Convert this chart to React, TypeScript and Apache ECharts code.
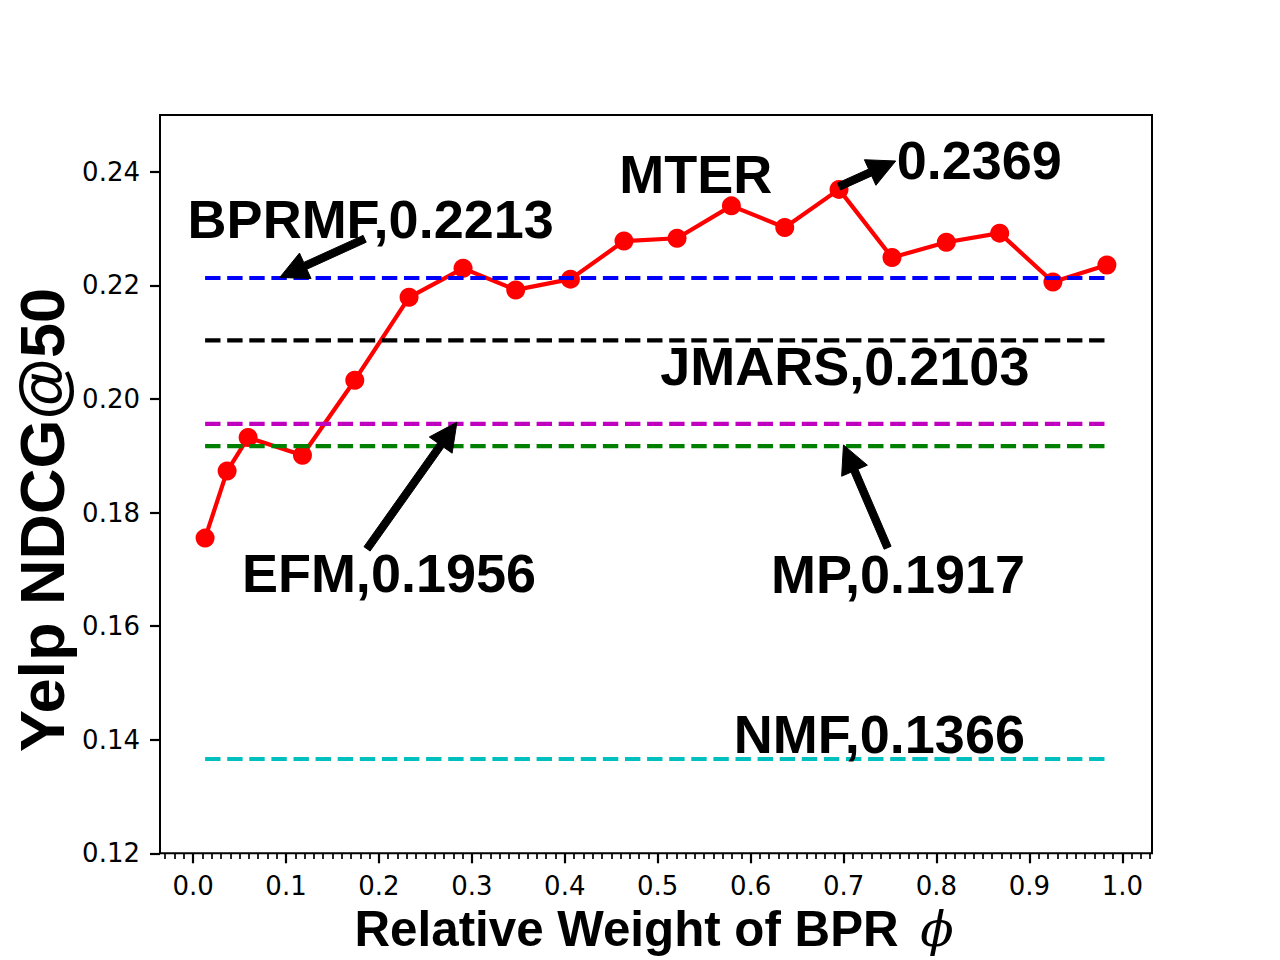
import React, { useEffect, useRef } from "react";
import * as echarts from "echarts";

// ---- data ----
const phiValues = [0.0129, 0.0366, 0.0592, 0.1177, 0.174, 0.2324, 0.2905, 0.3472, 0.4061, 0.4637, 0.5208, 0.5793, 0.6367, 0.6951, 0.7521, 0.8106, 0.868, 0.9253, 0.9834];
const mterNdcg = [0.1755, 0.1873, 0.1932, 0.1901, 0.2033, 0.2179, 0.223, 0.2192, 0.2211, 0.2278, 0.2283, 0.234, 0.2302, 0.2369, 0.2249, 0.2276, 0.2292, 0.2206, 0.2236];
const baselineNames = ["BPRMF", "JMARS", "EFM", "MP", "NMF"];
const baselineValues = [0.2213, 0.2103, 0.1956, 0.1917, 0.1366];
const baselineColors = ["#0000ff", "#000000", "#bf00bf", "#008000", "#00bfbf"];
const xTickValues = [0.0, 0.1, 0.2, 0.3, 0.4, 0.5, 0.6, 0.7, 0.8, 0.9, 1.0];
const yTickValues = [0.12, 0.14, 0.16, 0.18, 0.2, 0.22, 0.24];
const yMin = 0.12;
const yMax = 0.25;

// annotation texts: baseline-left anchor in data coords, optional arrow (tail -> tip)
const annotations = [
  { text: "BPRMF,0.2213", at: [-0.0059, 0.2283], from: [0.1846, 0.2282], to: [0.0933, 0.2214] },
  { text: "MTER", at: [0.4586, 0.2362] },
  { text: "0.2369", at: [0.7572, 0.2388], from: [0.6951, 0.2374], to: [0.7561, 0.2419] },
  { text: "JMARS,0.2103", at: [0.5027, 0.2024] },
  { text: "EFM,0.1956", at: [0.0525, 0.166], from: [0.1872, 0.1736], to: [0.2839, 0.1959] },
  { text: "MP,0.1917", at: [0.6218, 0.1658], from: [0.7474, 0.1738], to: [0.6999, 0.1919] },
  { text: "NMF,0.1366", at: [0.5819, 0.1377] },
];

const minorTicks: number[] = [];
for (let i = -3; i <= 103; i++) minorTicks.push(i / 100);

function arrowPoints(t: number[], h: number[], shaftW: number, headW: number, headL: number) {
  const dx = h[0] - t[0];
  const dy = h[1] - t[1];
  const L = Math.hypot(dx, dy);
  const ux = dx / L, uy = dy / L;
  const nx = -uy, ny = ux;
  const bx = h[0] - ux * headL, by = h[1] - uy * headL;
  return [
    [t[0] + (nx * shaftW) / 2, t[1] + (ny * shaftW) / 2],
    [bx + (nx * shaftW) / 2, by + (ny * shaftW) / 2],
    [bx + (nx * headW) / 2, by + (ny * headW) / 2],
    [h[0], h[1]],
    [bx - (nx * headW) / 2, by - (ny * headW) / 2],
    [bx - (nx * shaftW) / 2, by - (ny * shaftW) / 2],
    [t[0] - (nx * shaftW) / 2, t[1] - (ny * shaftW) / 2],
  ];
}

export default function App() {
  const ref = useRef<HTMLDivElement>(null);

  useEffect(() => {
    if (!ref.current) return;
    const chart = echarts.init(ref.current, null, { renderer: "svg" });

    const xFirst = phiValues[0];
    const xLast = phiValues[phiValues.length - 1];
    const span = xLast - xFirst;
    const xMin = xFirst - 0.05 * span;
    const xMax = xLast + 0.05 * span;

    const tickFont = { fontFamily: "DejaVu Sans", fontSize: 26, color: "#000" };

    const series: any[] = [
      {
        type: "line",
        name: "MTER",
        xAxisIndex: 0,
        yAxisIndex: 0,
        data: phiValues.map((x, i) => [x, mterNdcg[i]]),
        symbol: "circle",
        symbolSize: 19,
        showSymbol: true,
        itemStyle: { color: "#ff0000" },
        lineStyle: { color: "#ff0000", width: 4.2 },
        z: 2,
      },
    ];
    baselineValues.forEach((v, i) => {
      series.push({
        type: "line",
        name: baselineNames[i],
        xAxisIndex: 0,
        yAxisIndex: 0,
        data: [
          [xFirst, v],
          [xLast, v],
        ],
        symbol: "none",
        lineStyle: { color: baselineColors[i], width: 4.2, type: [15.4, 6.7], cap: "butt" },
        z: 3,
      });
    });

    chart.setOption({
      animation: false,
      backgroundColor: "#ffffff",
      grid: {
        left: 160,
        top: 115,
        width: 992,
        height: 738.3,
        show: true,
        borderColor: "#000",
        borderWidth: 2,
        backgroundColor: "transparent",
      },
      xAxis: [
        {
          type: "value",
          min: xMin,
          max: xMax,
          position: "bottom",
          axisLine: { show: false, onZero: false },
          splitLine: { show: false },
          axisTick: { show: true, customValues: xTickValues, length: 10, lineStyle: { color: "#000", width: 2.2 } },
          axisLabel: {
            show: true,
            customValues: xTickValues,
            margin: 20,
            formatter: (v: number) => v.toFixed(1),
            ...tickFont,
          },
        },
        {
          type: "value",
          min: xMin,
          max: xMax,
          position: "bottom",
          offset: 0,
          axisLine: { show: false, onZero: false },
          splitLine: { show: false },
          axisTick: { show: true, customValues: minorTicks, length: 5.6, lineStyle: { color: "#000", width: 1.7 } },
          axisLabel: { show: false },
        },
      ],
      yAxis: {
        type: "value",
        min: yMin,
        max: yMax,
        position: "left",
        axisLine: { show: false, onZero: false },
        splitLine: { show: false },
        axisTick: { show: true, customValues: yTickValues, length: 10, lineStyle: { color: "#000", width: 2.2 } },
        axisLabel: {
          show: true,
          customValues: yTickValues,
          margin: 20,
          formatter: (v: number) => v.toFixed(2),
          ...tickFont,
        },
      },
      series,
    });

    const toPx = (p: number[]) => chart.convertToPixel({ seriesIndex: 0 }, p) as number[];
    const annFont = 54;
    const graphics: any[] = [];
    annotations.forEach((a) => {
      const p = toPx(a.at);
      graphics.push({
        type: "text",
        x: p[0],
        y: p[1] - annFont * 0.35,
        z: 100,
        style: {
          text: a.text,
          fontFamily: "Liberation Sans",
          fontWeight: "bold",
          fontSize: annFont,
          lineHeight: 44,
          fill: "#000",
          align: "left",
          verticalAlign: "middle",
        },
      });
      if (a.from && a.to) {
        const t = toPx(a.from);
        const h = toPx(a.to);
        graphics.push({
          type: "polygon",
          z: 101,
          shape: { points: arrowPoints(t, h, 7.5, 28, 28) },
          style: { fill: "#000", stroke: "#000", lineWidth: 1 },
        });
      }
    });

    // axis titles
    graphics.push({
      type: "text",
      x: 42,
      y: 520,
      rotation: Math.PI / 2,
      z: 100,
      style: {
        text: "Yelp NDCG@50",
        fontFamily: "Liberation Sans",
        fontWeight: "bold",
        fontSize: 63,
        fill: "#000",
        align: "center",
        verticalAlign: "middle",
      },
    });
    graphics.push({
      type: "text",
      x: 354.5,
      y: 946 - 49.3 * 0.35,
      z: 100,
      style: {
        text: "Relative Weight of BPR",
        fontFamily: "Liberation Sans",
        fontWeight: "bold",
        fontSize: 49.3,
        lineHeight: 40,
        fill: "#000",
        align: "left",
        verticalAlign: "middle",
      },
    });
    graphics.push({
      type: "text",
      x: 937,
      y: 929,
      z: 100,
      style: {
        text: "\u03D5",
        fontFamily: "DejaVu Serif",
        fontStyle: "italic",
        fontSize: 49,
        lineHeight: 36,
        fill: "#000",
        align: "center",
        verticalAlign: "middle",
      },
    });

    chart.setOption({ graphic: graphics });

    return () => chart.dispose();
  }, []);

  return <div ref={ref} style={{ position: "absolute", left: 0, top: 0, width: 1280, height: 960 }} />;
}
